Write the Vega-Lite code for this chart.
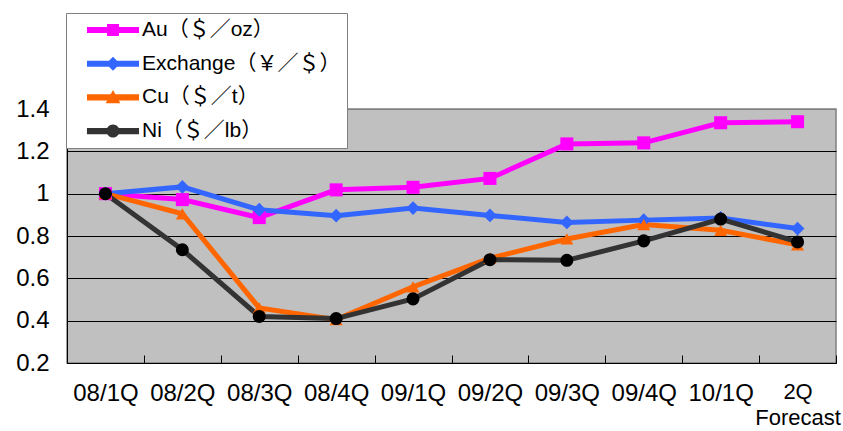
{
  "$schema": "https://vega.github.io/schema/vega-lite/v6.json",
  "width": 769,
  "height": 254,
  "autosize": {"type": "none"},
  "padding": {"left": 67, "top": 109, "right": 7, "bottom": 68},
  "background": "white",
  "config": {
    "view": {"fill": "#C0C0C0", "stroke": "#808080", "strokeWidth": 1.5},
    "font": "Liberation Sans"
  },
  "data": {
    "values": [
      {"q": "08/1Q", "s": "Au（＄／oz）", "v": 1.0},
      {"q": "08/2Q", "s": "Au（＄／oz）", "v": 0.972},
      {"q": "08/3Q", "s": "Au（＄／oz）", "v": 0.887},
      {"q": "08/4Q", "s": "Au（＄／oz）", "v": 1.018},
      {"q": "09/1Q", "s": "Au（＄／oz）", "v": 1.03},
      {"q": "09/2Q", "s": "Au（＄／oz）", "v": 1.072},
      {"q": "09/3Q", "s": "Au（＄／oz）", "v": 1.235},
      {"q": "09/4Q", "s": "Au（＄／oz）", "v": 1.24},
      {"q": "10/1Q", "s": "Au（＄／oz）", "v": 1.335},
      {"q": "2Q", "s": "Au（＄／oz）", "v": 1.34},
      {"q": "08/1Q", "s": "Exchange（￥／＄）", "v": 1.0},
      {"q": "08/2Q", "s": "Exchange（￥／＄）", "v": 1.032},
      {"q": "08/3Q", "s": "Exchange（￥／＄）", "v": 0.924},
      {"q": "08/4Q", "s": "Exchange（￥／＄）", "v": 0.896},
      {"q": "09/1Q", "s": "Exchange（￥／＄）", "v": 0.932},
      {"q": "09/2Q", "s": "Exchange（￥／＄）", "v": 0.897},
      {"q": "09/3Q", "s": "Exchange（￥／＄）", "v": 0.864},
      {"q": "09/4Q", "s": "Exchange（￥／＄）", "v": 0.875},
      {"q": "10/1Q", "s": "Exchange（￥／＄）", "v": 0.885},
      {"q": "2Q", "s": "Exchange（￥／＄）", "v": 0.835},
      {"q": "08/1Q", "s": "Cu（＄／t）", "v": 1.0},
      {"q": "08/2Q", "s": "Cu（＄／t）", "v": 0.905},
      {"q": "08/3Q", "s": "Cu（＄／t）", "v": 0.46},
      {"q": "08/4Q", "s": "Cu（＄／t）", "v": 0.405},
      {"q": "09/1Q", "s": "Cu（＄／t）", "v": 0.56},
      {"q": "09/2Q", "s": "Cu（＄／t）", "v": 0.695},
      {"q": "09/3Q", "s": "Cu（＄／t）", "v": 0.786},
      {"q": "09/4Q", "s": "Cu（＄／t）", "v": 0.854},
      {"q": "10/1Q", "s": "Cu（＄／t）", "v": 0.827},
      {"q": "2Q", "s": "Cu（＄／t）", "v": 0.758},
      {"q": "08/1Q", "s": "Ni（＄／lb）", "v": 1.0},
      {"q": "08/2Q", "s": "Ni（＄／lb）", "v": 0.735},
      {"q": "08/3Q", "s": "Ni（＄／lb）", "v": 0.42},
      {"q": "08/4Q", "s": "Ni（＄／lb）", "v": 0.41},
      {"q": "09/1Q", "s": "Ni（＄／lb）", "v": 0.503},
      {"q": "09/2Q", "s": "Ni（＄／lb）", "v": 0.688},
      {"q": "09/3Q", "s": "Ni（＄／lb）", "v": 0.685},
      {"q": "09/4Q", "s": "Ni（＄／lb）", "v": 0.777},
      {"q": "10/1Q", "s": "Ni（＄／lb）", "v": 0.88},
      {"q": "2Q", "s": "Ni（＄／lb）", "v": 0.772}
    ]
  },
  "encoding": {
    "x": {
      "field": "q",
      "type": "nominal",
      "bandPosition": 0.5,
      "scale": {
        "type": "band",
        "paddingInner": 0,
        "paddingOuter": 0,
        "domain": ["08/1Q", "08/2Q", "08/3Q", "08/4Q", "09/1Q", "09/2Q", "09/3Q", "09/4Q", "10/1Q", "2Q"]
      },
      "axis": {
        "title": null,
        "grid": false,
        "tickBand": "extent",
        "tickSize": -8,
        "tickColor": "black",
        "domainColor": "black",
        "labelAngle": 0,
        "labelFontSize": {"condition": {"test": "datum.label == '2Q'", "value": 22}, "value": 24},
        "labelColor": "black",
        "labelPadding": 26,
        "labelBaseline": "top",
        "labelLineHeight": 26,
        "labelExpr": "datum.label == '2Q' ? ['2Q', 'Forecast'] : datum.label"
      }
    },
    "y": {
      "field": "v",
      "type": "quantitative",
      "scale": {"domain": [0.2, 1.4], "nice": false, "zero": false},
      "axis": {
        "title": null,
        "values": [0.2, 0.4, 0.6, 0.8, 1.0, 1.2, 1.4],
        "format": ".1~f",
        "ticks": false,
        "labelFontSize": 24,
        "labelColor": "black",
        "labelPadding": 18,
        "domainColor": "black",
        "gridWidth": 1,
        "gridColor": {"condition": {"test": "datum.value >= 1.39", "value": "#808080"}, "value": "black"}
      }
    }
  },
  "layer": [
    {
      "mark": {"type": "line", "strokeWidth": 5},
      "encoding": {
        "color": {
          "field": "s",
          "type": "nominal",
          "scale": {
            "domain": ["Au（＄／oz）", "Exchange（￥／＄）", "Cu（＄／t）", "Ni（＄／lb）"],
            "range": ["#FF00FF", "#3366FF", "#FF6600", "#333333"]
          },
          "legend": {
            "title": null,
            "orient": "none",
            "legendX": -1,
            "legendY": -96,
            "fillColor": "white",
            "strokeColor": "#808080",
            "padding": 6.5,
            "symbolSize": 441,
            "symbolOffset": 30,
            "labelOffset": 18.5,
            "rowPadding": 11.7,
            "symbolStrokeWidth": 0,
            "labelFontSize": 21,
            "labelFont": "Liberation Sans, Noto Sans CJK JP",
            "labelColor": "black",
            "labelLimit": 400,
            "encode": {
              "symbols": {
                "update": {
                  "shape": {"signal": "datum.value === 'Au（＄／oz）' ? 'M-2.48,-0.29H2.48V0.29H-2.48Z M-0.57,-0.57H0.57V0.57H-0.57Z' : datum.value === 'Exchange（￥／＄）' ? 'M-2.48,-0.29H2.48V0.29H-2.48Z M0,-0.67L0.67,0L0,0.67L-0.67,0Z' : datum.value === 'Cu（＄／t）' ? 'M-2.48,-0.29H2.48V0.29H-2.48Z M0,-0.7L0.7,0.55L-0.7,0.55Z' : 'M-2.48,-0.29H2.48V0.29H-2.48Z M-0.62,0A0.62,0.62,0,1,1,0.62,0A0.62,0.62,0,1,1,-0.62,0Z'"},
                  "fill": {"scale": "color", "field": "value"},
                  "fillOpacity": {"value": 1},
                  "opacity": {"value": 1},
                  "strokeWidth": {"value": 0}
                }
              }
            }
          }
        }
      }
    },
    {
      "transform": [{"filter": "datum.s === 'Au（＄／oz）'"}],
      "mark": {"type": "point", "shape": "square", "filled": true, "size": 170, "opacity": 1, "strokeWidth": 0, "color": "#FF00FF"}
    },
    {
      "transform": [{"filter": "datum.s === 'Exchange（￥／＄）'"}],
      "mark": {"type": "point", "shape": "diamond", "filled": true, "size": 190, "opacity": 1, "strokeWidth": 0, "color": "#3366FF"}
    },
    {
      "transform": [{"filter": "datum.s === 'Cu（＄／t）'"}],
      "mark": {"type": "point", "shape": "triangle-up", "filled": true, "size": 170, "opacity": 1, "strokeWidth": 0, "color": "#FF6600"}
    },
    {
      "transform": [{"filter": "datum.s === 'Ni（＄／lb）'"}],
      "mark": {"type": "point", "shape": "circle", "filled": true, "size": 170, "opacity": 1, "strokeWidth": 0, "color": "#000000"}
    }
  ]
}
